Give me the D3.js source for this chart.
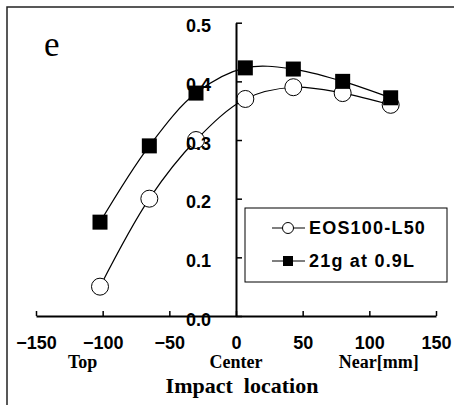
<!DOCTYPE html>
<html>
<head>
<meta charset="utf-8">
<script src="https://cdn.jsdelivr.net/npm/d3@7"></script>
<style>
  body { margin: 0; background: #fff; }
  svg { display: block; }
</style>
</head>
<body>
<script>
// impact location [mm]
var locations = [-102, -65, -30, 7, 43, 80, 116];
var eos100 = [0.05, 0.20, 0.30, 0.37, 0.39, 0.38, 0.36];
var club21g = [0.16, 0.29, 0.38, 0.423, 0.421, 0.40, 0.372];
var seriesNames = ['EOS100-L50', '21g at 0.9L'];
var xTicks = [-150, -100, -50, 0, 50, 100, 150];
var yTicks = [0.0, 0.1, 0.2, 0.3, 0.4, 0.5];
var regionLabels = [
  {x: -115, text: 'Top'},
  {x: 0, text: 'Center'},
  {x: 107, text: 'Near[mm]'}
];

var svgWidth = 454;
var svgHeight = 405;

var svg = d3.select('body')
  .append('svg')
  .attr('width', svgWidth)
  .attr('height', svgHeight);

// outer frame (runs off the right and bottom edges)
svg.append('rect')
  .attr('x', 7)
  .attr('y', 7)
  .attr('width', 460)
  .attr('height', 410)
  .attr('fill', 'none')
  .attr('stroke', '#222')
  .attr('stroke-width', 1.5);

var xScale = d3.scaleLinear()
  .domain([-150, 150])
  .range([36, 436]);

var yScale = d3.scaleLinear()
  .domain([0, 0.5])
  .range([316, 22.7]);

var tickFont = '"Liberation Sans", Arial, sans-serif';
var serifFont = '"Liberation Serif", "Times New Roman", serif';

// series
var lineFunction = d3.line()
  .x(function(d) { return xScale(d[0]); })
  .y(function(d) { return yScale(d[1]); })
  .curve(d3.curveCatmullRom.alpha(0.5));

var circleData = d3.zip(locations, eos100);
var squareData = d3.zip(locations, club21g);

svg.append('path')
  .attr('d', lineFunction(circleData))
  .attr('fill', 'none')
  .attr('stroke', '#000')
  .attr('stroke-width', 1.2);

svg.append('path')
  .attr('d', lineFunction(squareData))
  .attr('fill', 'none')
  .attr('stroke', '#000')
  .attr('stroke-width', 1.2);

svg.selectAll('circle.eos')
  .data(circleData)
  .enter()
  .append('circle')
    .attr('class', 'eos')
    .attr('cx', function(d) { return xScale(d[0]); })
    .attr('cy', function(d) { return yScale(d[1]); })
    .attr('r', 8.5)
    .attr('fill', '#fff')
    .attr('stroke', '#000')
    .attr('stroke-width', 1);

var sq = 15;
svg.selectAll('rect.club')
  .data(squareData)
  .enter()
  .append('rect')
    .attr('class', 'club')
    .attr('x', function(d) { return xScale(d[0]) - sq / 2; })
    .attr('y', function(d) { return yScale(d[1]) - sq / 2; })
    .attr('width', sq)
    .attr('height', sq)
    .attr('fill', '#000');

// x axis, ticks pointing up, labels below
var x_axis = d3.axisBottom(xScale)
  .tickValues(xTicks)
  .tickSizeInner(-5)
  .tickSizeOuter(0)
  .tickFormat(function(d) { return d < 0 ? '\u2212' + Math.abs(d) : d; });

var gx = svg.append('g')
  .attr('transform', 'translate(0,' + yScale(0) + ')')
  .call(x_axis);
gx.select('.domain').attr('stroke-width', 2);
gx.selectAll('.tick line').attr('stroke-width', 1.5);
gx.selectAll('.tick text')
  .attr('y', 33)
  .attr('dy', 0)
  .style('font-family', tickFont)
  .style('font-weight', 'bold')
  .style('font-size', '18px')
  .attr('fill', '#000');

// y axis at x = 0, ticks pointing right, labels on the left
var y_axis = d3.axisRight(yScale)
  .tickValues(yTicks)
  .tickSizeInner(6)
  .tickSizeOuter(0)
  .tickFormat(d3.format('.1f'));

var gy = svg.append('g')
  .attr('transform', 'translate(' + xScale(0) + ',0)')
  .call(y_axis);
gy.select('.domain').attr('stroke-width', 2);
gy.selectAll('.tick line').attr('stroke-width', 1.5);
gy.selectAll('.tick text')
  .attr('x', -25)
  .attr('dy', '0.5em')
  .attr('text-anchor', 'end')
  .style('font-family', tickFont)
  .style('font-weight', 'bold')
  .style('font-size', '18px')
  .attr('fill', '#000');

// region labels under the x axis
svg.selectAll('text.region')
  .data(regionLabels)
  .enter()
  .append('text')
    .attr('class', 'region')
    .attr('x', function(d) { return xScale(d.x); })
    .attr('y', 368)
    .attr('text-anchor', 'middle')
    .style('font-family', serifFont)
    .style('font-weight', 'bold')
    .style('font-size', '18px')
    .text(function(d) { return d.text; });

svg.append('text')
  .attr('x', 242)
  .attr('y', 392.5)
  .attr('text-anchor', 'middle')
  .style('font-family', serifFont)
  .style('font-weight', 'bold')
  .style('font-size', '22px')
  .style('white-space', 'pre')
  .text('Impact  location');

svg.append('text')
  .attr('x', 44)
  .attr('y', 55.5)
  .style('font-family', serifFont)
  .style('font-size', '35px')
  .text('e');

// legend
var legend = svg.append('g');
legend.append('rect')
  .attr('x', 245)
  .attr('y', 208)
  .attr('width', 202)
  .attr('height', 74)
  .attr('fill', '#fff')
  .attr('stroke', '#000')
  .attr('stroke-width', 1);

var rows = legend.selectAll('g.row')
  .data(seriesNames)
  .enter()
  .append('g')
    .attr('class', 'row')
    .attr('transform', function(d, i) { return 'translate(0,' + (228 + i * 33) + ')'; });

rows.append('line')
  .attr('x1', 272)
  .attr('x2', 305)
  .attr('stroke', '#000')
  .attr('stroke-width', 1.2);

rows.filter(function(d, i) { return i === 0; })
  .append('circle')
    .attr('cx', 288)
    .attr('r', 5.5)
    .attr('fill', '#fff')
    .attr('stroke', '#000');

rows.filter(function(d, i) { return i === 1; })
  .append('rect')
    .attr('x', 283)
    .attr('y', -5)
    .attr('width', 10)
    .attr('height', 10)
    .attr('fill', '#000');

rows.append('text')
  .attr('x', 309)
  .attr('dy', '0.36em')
  .style('font-family', tickFont)
  .style('font-weight', 'bold')
  .style('font-size', '18px')
  .style('letter-spacing', '1.2px')
  .text(function(d) { return d; });
</script>
</body>
</html>
